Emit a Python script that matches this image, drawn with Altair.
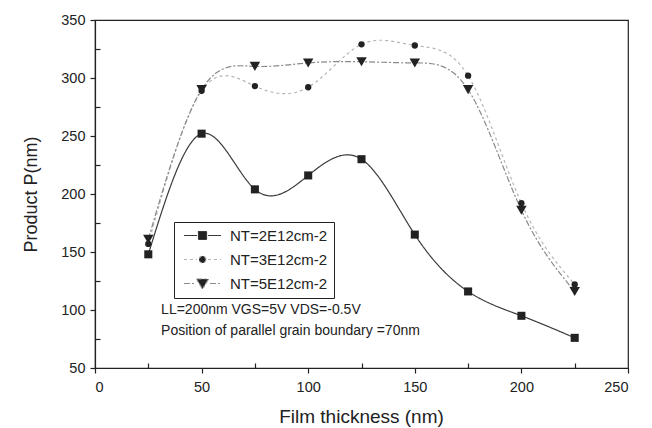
import altair as alt
import pandas as pd

# ---- data ----
thickness = [25, 50, 75, 100, 125, 150, 175, 200, 225]
p_nt2 = [148, 252, 204, 216, 230, 165, 116, 95, 76]
p_nt3 = [157, 289, 293, 292, 329, 328, 302, 192, 122]
p_nt5 = [161, 290, 310, 313, 314, 313, 290, 186, 116]
series_names = ["NT=2E12cm-2", "NT=3E12cm-2", "NT=5E12cm-2"]
x_major = [0, 50, 100, 150, 200, 250]
x_minor = [25, 75, 125, 175, 225]
y_major = [50, 100, 150, 200, 250, 300, 350]
y_minor = [75, 125, 175, 225, 275, 325]
note_lines = ["LL=200nm VGS=5V VDS=-0.5V", "Position of parallel grain boundary =70nm"]
note_t = [31, 31]
note_p = [100, 82]

# ---- styles ----
FONT = "Liberation Sans"
INK = "#222222"
line_colors = ["#3a3a3a", "#b5b5b5", "#8a8a8a"]
line_dashes = [[1, 0], [3, 3], [6, 2, 2, 2]]
shapes = ["square", "circle", "triangle-down"]
sizes = [65, 40, 110]
legend_paths = [
    "M-3.7,0H-1.1M1.1,0H3.7M-0.8,-0.8H0.8V0.8H-0.8Z",
    "M-3.7,0H-1.1M1.1,0H3.7M0.7,0A0.7,0.7,0,1,1,-0.7,0A0.7,0.7,0,1,1,0.7,0Z",
    "M-3.7,0H-1.5M1.5,0H3.7M-1.2,-0.9L1.2,-0.9L0,1.1Z",
]

rows = []
for name, vals in zip(series_names, [p_nt2, p_nt3, p_nt5]):
    for t, v in zip(thickness, vals):
        rows.append({"series": name, "t": t, "p": v})
df = pd.DataFrame(rows)
notes = pd.DataFrame({"text": note_lines, "t": note_t, "p": note_p})

xs = alt.Scale(domain=[0, 250], nice=False, zero=False)
ys = alt.Scale(domain=[50, 350], nice=False, zero=False)

x_main = alt.X(
    "t:Q", scale=xs,
    axis=alt.Axis(
        orient="bottom", values=x_major,
        title="Film thickness (nm)",
        titleFont=FONT, titleFontSize=19, titleFontWeight="normal", titleColor=INK,
        titleX=266, titleY=48, titleBaseline="middle",
        labelFont=FONT, labelFontSize=14.5, labelColor=INK, labelPadding=7,
        tickSize=5, tickColor=INK, tickWidth=1.2,
        domainColor=INK, domainWidth=1.2, grid=False,
    ),
)
y_main = alt.Y(
    "p:Q", scale=ys,
    axis=alt.Axis(
        orient="left", values=y_major,
        title="Product P(nm)",
        titleFont=FONT, titleFontSize=18, titleFontWeight="normal", titleColor=INK,
        titleX=-64, titleY=174, titleBaseline="middle", titleAngle=270,
        labelFont=FONT, labelFontSize=14.5, labelColor=INK, labelPadding=5,
        tickSize=5, tickColor=INK, tickWidth=1.2,
        domainColor=INK, domainWidth=1.2, grid=False,
    ),
)
x_minor_enc = alt.X(
    "t:Q", scale=xs,
    axis=alt.Axis(orient="bottom", values=x_minor, offset=-5, labels=False, domain=False,
                  title=None, tickSize=5, tickColor=INK, tickWidth=1.2, grid=False),
)
y_minor_enc = alt.Y(
    "p:Q", scale=ys,
    axis=alt.Axis(orient="left", values=y_minor, offset=-5, labels=False, domain=False,
                  title=None, tickSize=5, tickColor=INK, tickWidth=1.2, grid=False),
)
x_none = alt.X("t:Q", scale=xs, axis=None)
y_none = alt.Y("p:Q", scale=ys, axis=None)

base = alt.Chart(df)
layers = []
for i, name in enumerate(series_names):
    xe, ye = (x_main, y_main) if i == 0 else (x_none, y_none)
    layers.append(
        base.transform_filter(alt.datum.series == name)
        .mark_line(interpolate="natural", color=line_colors[i], strokeDash=line_dashes[i], strokeWidth=1.2)
        .encode(x=xe, y=ye)
    )
for i, name in enumerate(series_names):
    layers.append(
        base.transform_filter(alt.datum.series == name)
        .mark_point(shape=shapes[i], filled=True, color=INK, size=sizes[i], opacity=1)
        .encode(x=x_none, y=y_none)
    )

leg = alt.Legend(
    title=None, orient="none", legendX=79, legendY=202,
    strokeColor=INK, padding=6, fillColor="white",
    labelFont=FONT, labelFontSize=15, labelColor=INK,
    symbolSize=100, symbolStrokeWidth=1.2, symbolFillColor=INK, symbolOpacity=1,
    symbolOffset=15, labelOffset=20, rowPadding=8,
)
legend_layer = (
    base.transform_filter("false")
    .mark_point(filled=True, fill=INK, strokeWidth=1.2, opacity=1)
    .encode(
        x=x_minor_enc, y=y_minor_enc,
        shape=alt.Shape("series:N", scale=alt.Scale(domain=series_names, range=legend_paths), legend=leg),
        stroke=alt.Stroke("series:N", scale=alt.Scale(domain=series_names, range=line_colors), legend=leg),
        strokeDash=alt.StrokeDash("series:N", scale=alt.Scale(domain=series_names, range=line_dashes), legend=leg),
    )
)
layers.append(legend_layer)

text_layer = alt.Chart(notes).mark_text(
    align="left", baseline="middle", font=FONT, fontSize=14, color=INK
).encode(x=x_none, y=y_none, text="text:N")
layers.append(text_layer)

chart = (
    alt.layer(*layers)
    .resolve_axis(x="independent", y="independent")
    .properties(
        width=533, height=348,
        autosize=alt.AutoSizeParams(type="none"),
        padding={"left": 95, "top": 20, "right": 24, "bottom": 60},
        background="white",
    )
    .configure_view(stroke=INK, strokeWidth=1.2)
)

chart.save("out.html", embed_options={"renderer": "svg", "actions": False})
